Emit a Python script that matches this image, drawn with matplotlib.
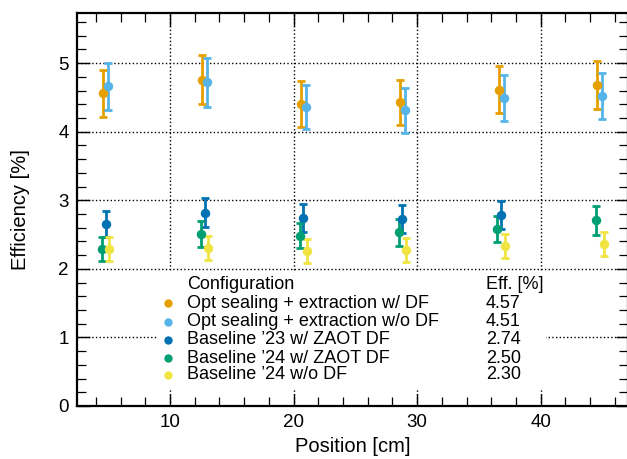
import matplotlib
matplotlib.use("Agg")
import matplotlib.pyplot as plt
from matplotlib.ticker import MultipleLocator
from matplotlib.patches import Rectangle

plt.rcParams['font.family'] = ['Liberation Sans', 'DejaVu Sans']

# ---- data ----
labels = ["Opt sealing + extraction w/ DF",
          "Opt sealing + extraction w/o DF",
          "Baseline \u201923 w/ ZAOT DF",
          "Baseline \u201924 w/ ZAOT DF",
          "Baseline \u201924 w/o DF"]
eff_mean = ["4.57", "4.51", "2.74", "2.50", "2.30"]
colors = ["#E69F00", "#56B4E9", "#0072B2", "#009E73", "#F0E442"]

x_opt_df = [4.6, 12.6, 20.6, 28.6, 36.6, 44.6]
y_opt_df = [4.56, 4.76, 4.40, 4.43, 4.61, 4.68]
e_opt_df = [0.345, 0.36, 0.335, 0.33, 0.345, 0.355]

x_opt_nodf = [5.0, 13.0, 21.0, 29.0, 37.0, 45.0]
y_opt_nodf = [4.66, 4.72, 4.36, 4.31, 4.49, 4.52]
e_opt_nodf = [0.345, 0.355, 0.325, 0.325, 0.34, 0.34]

x_b23 = [4.8, 12.8, 20.8, 28.8, 36.8]
y_b23 = [2.655, 2.82, 2.74, 2.73, 2.78]
e_b23 = [0.185, 0.21, 0.21, 0.205, 0.205]

x_b24_df = [4.5, 12.5, 20.5, 28.5, 36.5, 44.5]
y_b24_df = [2.29, 2.51, 2.485, 2.53, 2.58, 2.71]
e_b24_df = [0.17, 0.19, 0.185, 0.19, 0.19, 0.21]

x_b24_nodf = [5.1, 13.1, 21.1, 29.1, 37.1, 45.1]
y_b24_nodf = [2.29, 2.30, 2.26, 2.27, 2.33, 2.36]
e_b24_nodf = [0.175, 0.175, 0.17, 0.175, 0.175, 0.18]

series = [(x_opt_df, y_opt_df, e_opt_df),
          (x_opt_nodf, y_opt_nodf, e_opt_nodf),
          (x_b23, y_b23, e_b23),
          (x_b24_df, y_b24_df, e_b24_df),
          (x_b24_nodf, y_b24_nodf, e_b24_nodf)]

# ---- figure ----
fig = plt.figure(figsize=(6.27, 4.59), dpi=100)
ax = fig.add_axes([77/627, 1 - 406/459, 551/627, 393/459])
ax.set_axisbelow(True)

for (xs, ys, es), c in zip(series, colors):
    ax.errorbar(xs, ys, yerr=es, fmt='o', color=c, ms=5.8, elinewidth=2.0,
                capsize=2.6, capthick=2.0, zorder=3)

ax.set_xlim(2.47, 47.07)
ax.set_ylim(0, 5.73)
ax.xaxis.set_major_locator(MultipleLocator(10))
ax.xaxis.set_minor_locator(MultipleLocator(2))
ax.yaxis.set_major_locator(MultipleLocator(1))
ax.yaxis.set_minor_locator(MultipleLocator(0.2))
ax.tick_params(which='both', direction='in', top=True, right=True, labelsize=13.5, pad=6)
ax.tick_params(which='major', length=9, width=1.0)
ax.tick_params(which='minor', length=6.5, width=0.9)
for s in ax.spines.values():
    s.set_linewidth(1.6)
ax.grid(which='major', linestyle=':', color='black', linewidth=1.0)

ax.set_xlabel("Position [cm]", fontsize=14.5)
ax.set_ylabel("Efficiency [%]", fontsize=14.5)
ax.yaxis.set_label_coords(-0.085, 0.5)

# ---- table-like legend ----
ax.add_patch(Rectangle((0.147, 0.046), 0.704, 0.295, transform=ax.transAxes,
                       facecolor='white', edgecolor='none', zorder=2))
fs = 13
ax.text(0.2005, 0.3097, "Configuration", transform=ax.transAxes, fontsize=fs,
        va='center', ha='left', zorder=4)
ax.text(0.7418, 0.3097, "Eff. [%]", transform=ax.transAxes, fontsize=fs,
        va='center', ha='left', zorder=4)
row_y = [0.2613, 0.2145, 0.168, 0.1214, 0.0789]
for lab, val, c, ry in zip(labels, eff_mean, colors, row_y):
    ax.plot([0.166], [ry], 'o', color=c, ms=5, transform=ax.transAxes, zorder=4)
    ax.text(0.2005, ry, lab, transform=ax.transAxes, fontsize=fs, va='center',
            ha='left', zorder=4)
    ax.text(0.7418, ry, val, transform=ax.transAxes, fontsize=fs, va='center',
            ha='left', zorder=4)

fig.savefig("out.png", dpi=100)
